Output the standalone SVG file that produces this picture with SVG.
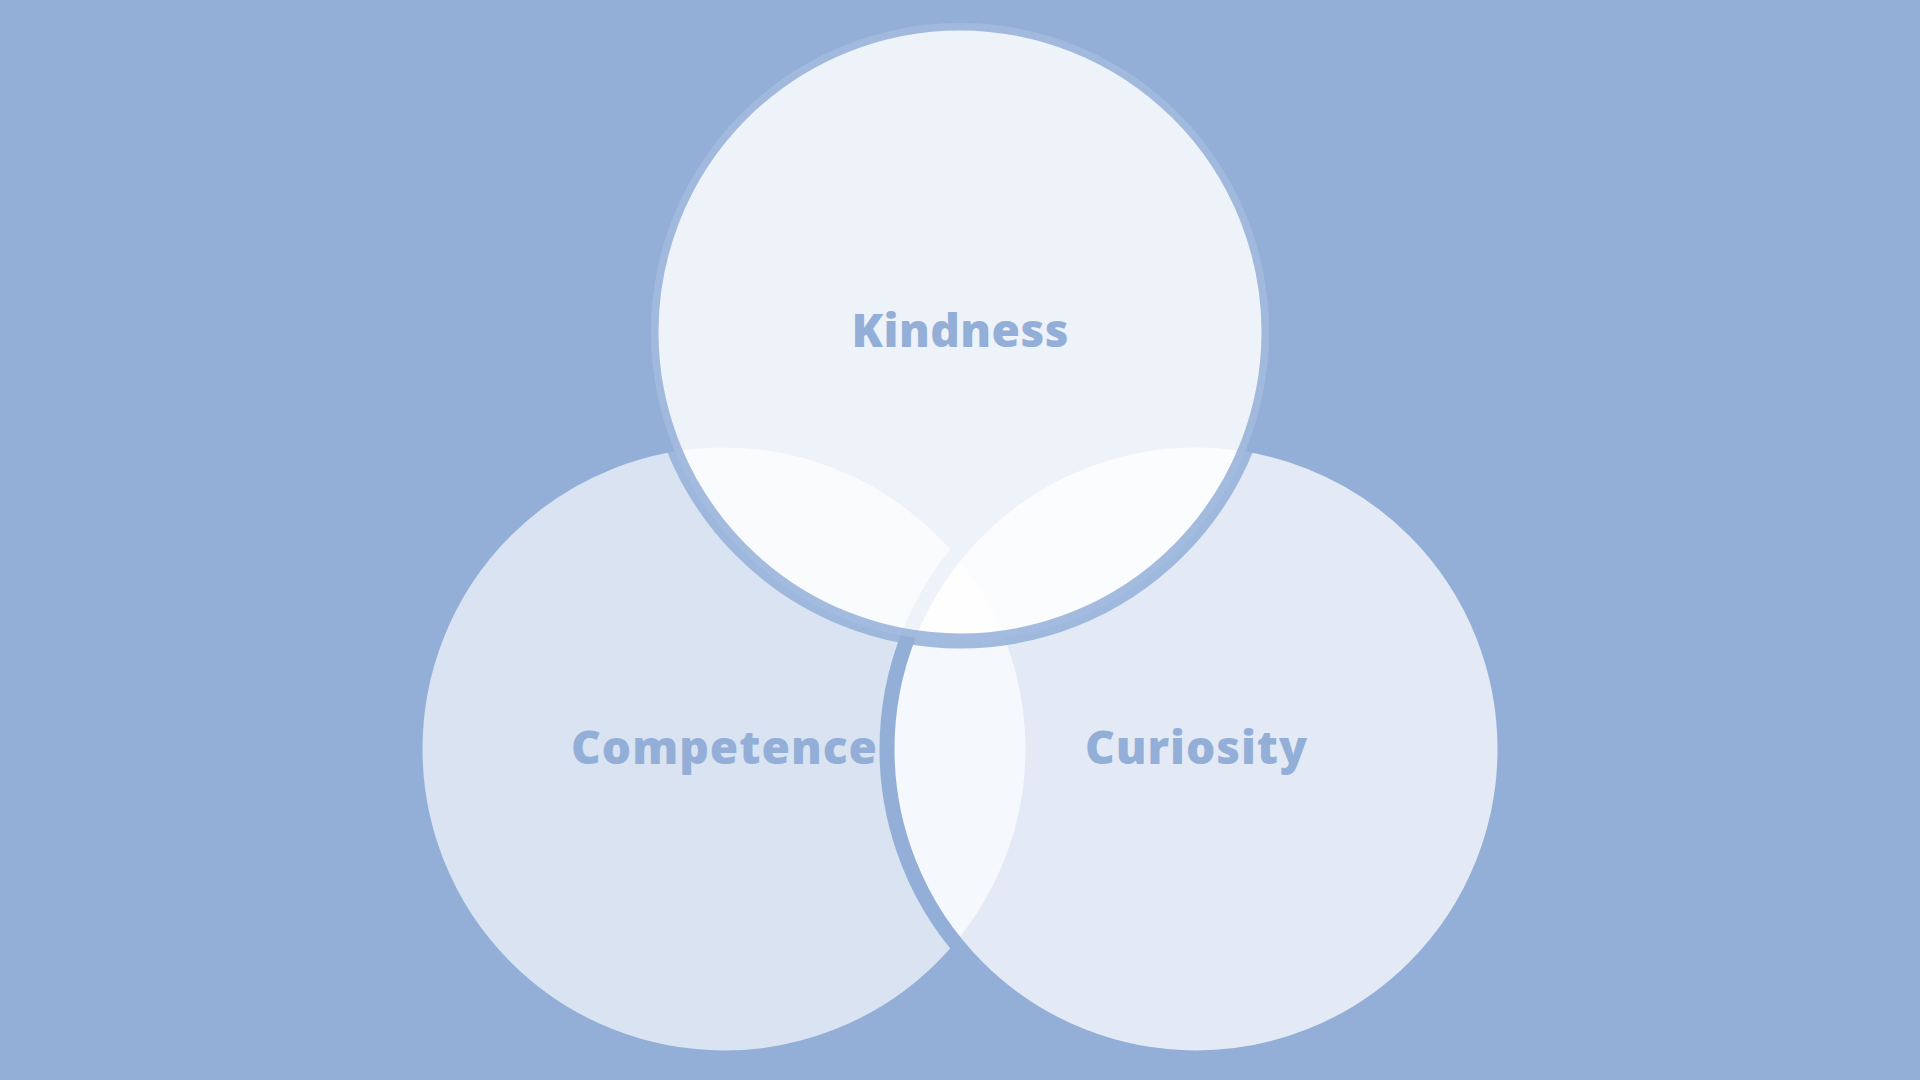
<svg xmlns="http://www.w3.org/2000/svg" width="1920" height="1080" viewBox="0 0 1920 1080">
<style>
.c{stroke:#93AFD8;stroke-width:15}
.t{font-family:"Open Sans","Liberation Sans",sans-serif;font-weight:800;font-size:46px;fill:#93AFD8;text-anchor:middle}
</style>
<rect width="1920" height="1080" fill="#93AFD8"/>
<g id="competence">
<circle class="c" cx="724" cy="749" r="309" fill="#fff" fill-opacity="0.65"/>
<text class="t" x="724" y="764" textLength="306" lengthAdjust="spacing">Competence</text>
</g>
<g id="curiosity">
<circle class="c" cx="1196" cy="749" r="309" fill="#fff" fill-opacity="0.74"/>
<text class="t" x="1196" y="764" textLength="222" lengthAdjust="spacing">Curiosity</text>
</g>
<g id="kindness">
<circle class="c" cx="960" cy="332" r="309" fill="#fff" fill-opacity="0.84" stroke-opacity="0.85"/>
<text class="t" x="960" y="347" textLength="217" lengthAdjust="spacing">Kindness</text>
</g>
<g id="connectors"/>
</svg>
